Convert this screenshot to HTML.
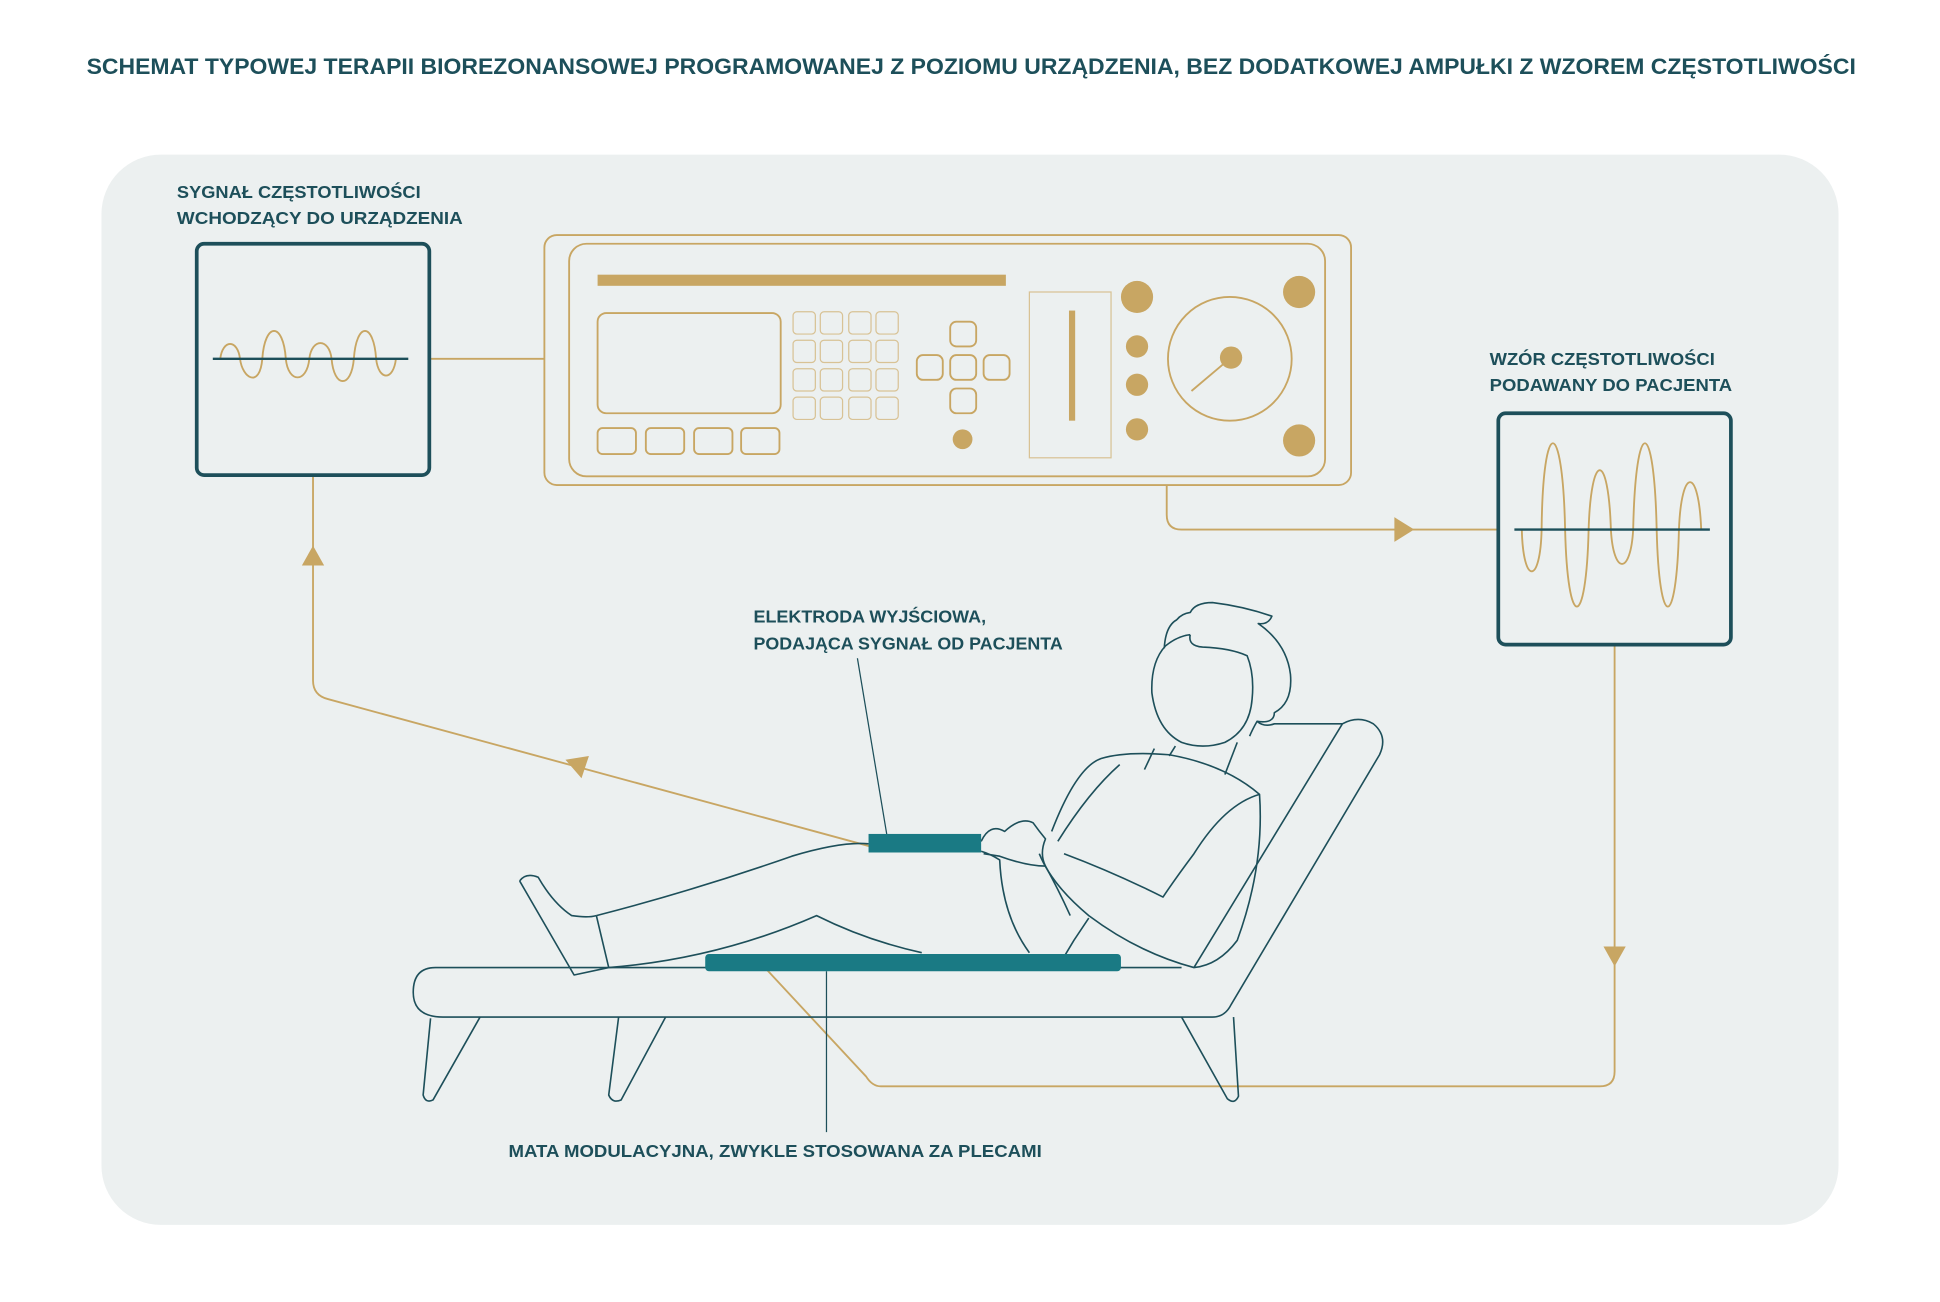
<!DOCTYPE html>
<html><head><meta charset="utf-8"><style>
html,body{margin:0;padding:0;background:#fff;}
svg{display:block;}
text{font-family:"Liberation Sans","Noto Sans CJK SC",sans-serif;font-weight:bold;fill:#1d4f5a;}
</style></head><body>
<svg width="1940" height="1302" viewBox="0 0 1568 1052.3" preserveAspectRatio="none" xmlns="http://www.w3.org/2000/svg">
<rect width="1568" height="1053" fill="#fff"/>
<text x="70" y="60" font-size="18" textLength="1430" lengthAdjust="spacingAndGlyphs">SCHEMAT TYPOWEJ TERAPII BIOREZONANSOWEJ PROGRAMOWANEJ Z POZIOMU URZĄDZENIA, BEZ DODATKOWEJ AMPUŁKI Z WZOREM CZĘSTOTLIWOŚCI</text>
<rect x="82" y="125" width="1404" height="865" rx="48" fill="#ecf0f0"/>

<g font-size="14">
<text x="143" y="160" textLength="197" lengthAdjust="spacingAndGlyphs">SYGNAŁ CZĘSTOTLIWOŚCI</text>
<text x="143" y="181" textLength="231" lengthAdjust="spacingAndGlyphs">WCHODZĄCY DO URZĄDZENIA</text>
<text x="1204" y="295" textLength="182" lengthAdjust="spacingAndGlyphs">WZÓR CZĘSTOTLIWOŚCI</text>
<text x="1204" y="316" textLength="196" lengthAdjust="spacingAndGlyphs">PODAWANY DO PACJENTA</text>
<text x="609" y="503" textLength="188" lengthAdjust="spacingAndGlyphs">ELEKTRODA WYJŚCIOWA,</text>
<text x="609" y="525" textLength="250" lengthAdjust="spacingAndGlyphs">PODAJĄCA SYGNAŁ OD PACJENTA</text>
<text x="411" y="935" textLength="431" lengthAdjust="spacingAndGlyphs">MATA MODULACYJNA, ZWYKLE STOSOWANA ZA PLECAMI</text>
</g>

<!-- connectors -->
<g fill="none" stroke="#c8a663" stroke-width="1.5">
<line x1="348" y1="290" x2="440" y2="290"/>
<path d="M943 392 V416 Q943 428 955 428 H1211"/>
<path d="M253 385 V550 Q253 562 265 565 L703 684"/>
<path d="M1305 522 V866 Q1305 878 1293 878 H712 Q705 878 700 870 L620 784"/>
</g>
<g fill="#c8a663">
<polygon points="1127,418 1143,428 1127,438"/>
<polygon points="244,457 253,441 262,457"/>
<polygon points="457,614 476,611 470,629"/>
<polygon points="1296,765 1314,765 1305,781"/>
</g>

<!-- left box -->
<rect x="159" y="197" width="188" height="187" rx="6" fill="none" stroke="#1d4f5a" stroke-width="3"/>
<path fill="none" stroke="#c8a663" stroke-width="1.5" d="M178 290 C180 274,192 274,194 290 C196 306,210 314,212 290 C214 260,229 260,231 290 C233 310,248 310,250 290 C252 273,266 273,268 290 C270 314,284 314,286 290 C288 260,302 260,304 290 C306 308,318 308,320 290"/>
<line x1="172" y1="290" x2="330" y2="290" stroke="#1d4f5a" stroke-width="2"/>

<!-- right box -->
<rect x="1211" y="334" width="188" height="187" rx="6" fill="none" stroke="#1d4f5a" stroke-width="3"/>
<path fill="none" stroke="#c8a663" stroke-width="1.5" d="M1230 428 C1231 473,1245 473,1246 428 C1247 335,1263 335,1265 428 C1267 511,1282 511,1284 428 C1286 364,1300 364,1302 428 C1304 465,1318 465,1320 428 C1322 335,1337 335,1339 428 C1341 511,1355 511,1357 428 C1359 377,1373 377,1375 428"/>
<line x1="1224" y1="428" x2="1382" y2="428" stroke="#1d4f5a" stroke-width="2"/>

<!-- device -->
<g fill="none" stroke="#c8a663" stroke-width="1.5">
<rect x="440" y="190" width="652" height="202" rx="10"/>
<rect x="460" y="197" width="611" height="188" rx="14"/>
<rect x="483" y="253" width="148" height="81" rx="7"/>
<g stroke-width="1" stroke="#d8c295">
<rect x="641" y="252" width="18" height="18" rx="3"/><rect x="663" y="252" width="18" height="18" rx="3"/><rect x="686" y="252" width="18" height="18" rx="3"/><rect x="708" y="252" width="18" height="18" rx="3"/>
<rect x="641" y="275" width="18" height="18" rx="3"/><rect x="663" y="275" width="18" height="18" rx="3"/><rect x="686" y="275" width="18" height="18" rx="3"/><rect x="708" y="275" width="18" height="18" rx="3"/>
<rect x="641" y="298" width="18" height="18" rx="3"/><rect x="663" y="298" width="18" height="18" rx="3"/><rect x="686" y="298" width="18" height="18" rx="3"/><rect x="708" y="298" width="18" height="18" rx="3"/>
<rect x="641" y="321" width="18" height="18" rx="3"/><rect x="663" y="321" width="18" height="18" rx="3"/><rect x="686" y="321" width="18" height="18" rx="3"/><rect x="708" y="321" width="18" height="18" rx="3"/>
<rect x="832" y="236" width="66" height="134"/>
</g>
<rect x="768" y="260" width="21" height="20" rx="5"/>
<rect x="741" y="287" width="21" height="20" rx="5"/>
<rect x="768" y="287" width="21" height="20" rx="5"/>
<rect x="795" y="287" width="21" height="20" rx="5"/>
<rect x="768" y="314" width="21" height="20" rx="5"/>
<rect x="483" y="346" width="31" height="21" rx="4"/>
<rect x="522" y="346" width="31" height="21" rx="4"/>
<rect x="561" y="346" width="31" height="21" rx="4"/>
<rect x="599" y="346" width="31" height="21" rx="4"/>
<circle cx="994" cy="290" r="50"/>
<line x1="995" y1="289" x2="963" y2="316"/>
</g>
<g fill="#c8a663">
<rect x="483" y="222" width="330" height="9"/>
<rect x="864" y="251" width="5" height="89"/>
<circle cx="778" cy="355" r="8"/>
<circle cx="919" cy="240" r="13"/>
<circle cx="919" cy="280" r="9"/>
<circle cx="919" cy="311" r="9"/>
<circle cx="919" cy="347" r="9"/>
<circle cx="995" cy="289" r="9"/>
<circle cx="1050" cy="236" r="13"/>
<circle cx="1050" cy="356" r="13"/>
</g>

<!-- chaise & person -->
<g fill="none" stroke="#1d4f5a" stroke-width="1.3" stroke-linejoin="round">
<path d="M955 782 H352 Q334 782 334 802 Q334 822 358 822 H980 Q990 822 995 812 L1115 610 Q1122 595 1110 585 Q1098 578 1085 585 L965 782"/>
<path d="M1085 585 H1030 Q1022 588 1016 583"/>
<path d="M348 823 L342 885 Q344 892 350 889 L388 822"/>
<path d="M500 822 L492 885 Q495 892 502 889 L538 822"/>
<path d="M955 822 L992 888 Q998 893 1001 886 L997 822"/>
<!-- head -->
<path d="M962 513 Q960 522 972 523 Q995 524 1008 530 Q1014 545 1012 565 Q1010 590 990 600 Q972 606 955 600 Q935 590 931 560 Q930 535 942 522 Q952 514 962 513"/>
<path d="M941 524 Q942 506 951 501 Q955 496 962 495 Q966 487 980 487 Q1005 490 1028 498 Q1025 505 1017 504 Q1040 520 1043 545 Q1045 568 1030 576 Q1030 585 1016 583 Q1012 590 1010 595"/>
<!-- torso -->
<path d="M933 605 L925 622"/>
<path d="M950 603 L945 611"/>
<path d="M1000 600 L990 626"/>
<path d="M850 672 Q870 620 890 613 Q910 607 945 610 Q990 618 1018 642 Q1022 700 1000 760 Q985 780 965 782 Q920 770 880 740 Q850 715 840 690"/>
<path d="M1018 642 Q990 650 965 690 Q950 710 940 725 Q900 705 860 690"/>
<path d="M855 680 Q880 640 905 618"/>
<path d="M880 742 L868 760 L856 780"/>
<!-- arm/hands -->
<path d="M793 680 Q800 665 812 672 Q825 660 835 665 Q840 672 845 678 Q840 690 845 700 Q830 700 808 692 L795 690"/>
<path d="M845 700 Q856 720 865 740"/>
<!-- legs -->
<path d="M482 740 Q560 720 640 692 Q680 680 702 682"/>
<path d="M793 688 Q800 690 808 695 Q810 740 832 770"/>
<path d="M492 782 Q580 775 660 740 Q700 760 745 770"/>
<path d="M482 740 L492 782"/>
<path d="M420 712 Q425 705 435 709 Q447 730 462 740 Q475 742 482 740 M420 712 L464 788 Q478 785 492 782"/>
<path d="M693 532 L717 676" stroke-width="1"/>
<path d="M668 785 V915" stroke-width="1"/>
</g>
<rect x="702" y="674" width="91" height="15" fill="#1a7a84"/>
<rect x="570" y="771" width="336" height="14" rx="3" fill="#1a7a84"/>
</svg>
</body></html>
